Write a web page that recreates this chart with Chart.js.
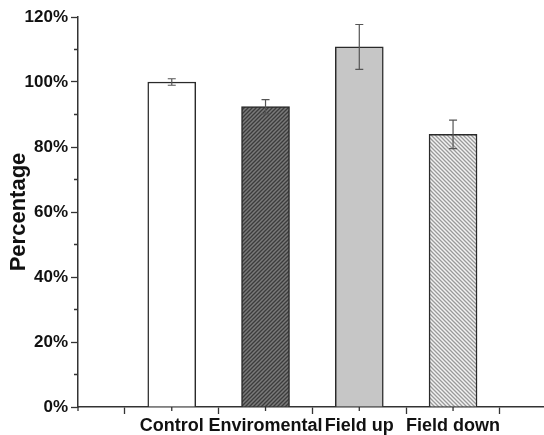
<!DOCTYPE html>
<html>
<head>
<meta charset="utf-8">
<script src="https://cdn.jsdelivr.net/npm/chart.js@4"></script>
<style>
  html, body { margin: 0; padding: 0; background: #fff; }
  #chart { display: block; }
</style>
</head>
<body>
<canvas id="chart" width="544" height="435"></canvas>
<script>
// groups, mean percentage and error (±) for each group
const categories = ['Control', 'Enviromental', 'Field up', 'Field down'];
const means = [100, 92.4, 110.8, 83.9];
const errors = [1.0, 2.2, 6.9, 4.4];
const yMajorTicks = [0, 20, 40, 60, 80, 100, 120];

function hatch(bg, fg, dir) {
    const c = document.createElement('canvas');
    c.width = 4; c.height = 4;
    const g = c.getContext('2d');
    g.fillStyle = bg;
    g.fillRect(0, 0, 4, 4);
    g.strokeStyle = fg;
    g.lineWidth = 1.3;
    g.beginPath();
    if (dir > 0) {
        g.moveTo(-1, 5); g.lineTo(5, -1);
        g.moveTo(-1, 1); g.lineTo(1, -1);
        g.moveTo(3, 5); g.lineTo(5, 3);
    } else {
        g.moveTo(-1, -1); g.lineTo(5, 5);
        g.moveTo(3, -1); g.lineTo(5, 1);
        g.moveTo(-1, 3); g.lineTo(1, 5);
    }
    g.stroke();
    return g.createPattern(c, 'repeat');
}

const ctx = document.getElementById('chart').getContext('2d');
const fills = [
    '#ffffff',
    hatch('#7a7a7a', '#3c3c3c', 1),
    '#c6c6c6',
    hatch('#f2f2f2', '#9a9a9a', -1)
];

// error bars and the short minor ticks on both axes
const extras = {
    id: 'extras',
    afterDatasetsDraw(chart) {
        const g = chart.ctx;
        const ys = chart.scales.y, xs = chart.scales.x;
        const meta = chart.getDatasetMeta(0);
        g.save();
        g.strokeStyle = '#555';
        g.lineWidth = 1.2;
        meta.data.forEach((bar, i) => {
            const top = ys.getPixelForValue(means[i] + errors[i]);
            const bot = ys.getPixelForValue(means[i] - errors[i]);
            g.beginPath();
            g.moveTo(bar.x, top); g.lineTo(bar.x, bot);
            g.moveTo(bar.x - 4, top); g.lineTo(bar.x + 4, top);
            g.moveTo(bar.x - 4, bot); g.lineTo(bar.x + 4, bot);
            g.stroke();
        });
        g.strokeStyle = '#333';
        g.lineWidth = 1.3;
        g.beginPath();
        for (let v = 10; v < 120; v += 20) {
            const p = ys.getPixelForValue(v);
            g.moveTo(xs.left - 4, p); g.lineTo(xs.left, p);
        }
        for (let v = 0; v <= 4; v++) {
            const p = xs.getPixelForValue(v);
            g.moveTo(p, ys.bottom); g.lineTo(p, ys.bottom + 4);
        }
        g.stroke();
        g.restore();
    }
};

new Chart(ctx, {
    type: 'bar',
    data: {
        datasets: [{
            data: means.map((v, i) => ({ x: i + 1, y: v })),
            backgroundColor: fills,
            borderColor: '#2a2a2a',
            borderWidth: 1.5,
            barThickness: 48
        }]
    },
    options: {
        responsive: false,
        devicePixelRatio: 1,
        animation: false,
        layout: { padding: { top: 17, right: 0, left: 0, bottom: 0 } },
        plugins: { legend: { display: false }, tooltip: { enabled: false } },
        scales: {
            x: {
                type: 'linear',
                min: 0,
                max: 4.97,
                offset: false,
                afterBuildTicks: s => {
                    s.ticks = [];
                    for (let v = 0.5; v < 4.6; v += 0.5) s.ticks.push({ value: v });
                },
                afterFit: s => { s.height = 28; },
                border: { color: '#333', width: 1.5 },
                grid: {
                    offset: false,
                    drawOnChartArea: false,
                    tickLength: 7,
                    tickWidth: 1.3,
                    tickColor: c => (c.tick && Number.isInteger(c.tick.value)) ? 'rgba(0,0,0,0)' : '#333'
                },
                ticks: {
                    autoSkip: false,
                    maxRotation: 0,
                    padding: 1,
                    color: '#111',
                    font: { family: 'Liberation Sans, Arial', size: 18, weight: 'bold' },
                    callback: v => Number.isInteger(v) && v >= 1 ? categories[v - 1] : ''
                }
            },
            y: {
                min: 0,
                max: 120,
                afterBuildTicks: s => { s.ticks = yMajorTicks.map(v => ({ value: v })); },
                afterFit: s => { s.width = 78; },
                border: { color: '#333', width: 1.5 },
                grid: { drawOnChartArea: false, tickLength: 7, tickWidth: 1.3, tickColor: '#333' },
                ticks: {
                    padding: 3,
                    color: '#111',
                    font: { family: 'Liberation Sans, Arial', size: 17, weight: 'bold' },
                    callback: v => v + '%'
                },
                title: {
                    display: true,
                    text: 'Percentage',
                    color: '#111',
                    padding: { top: 6, bottom: 0 },
                    font: { family: 'Liberation Sans, Arial', size: 22, weight: 'bold' }
                }
            }
        }
    },
    plugins: [extras]
});
</script>
</body>
</html>
